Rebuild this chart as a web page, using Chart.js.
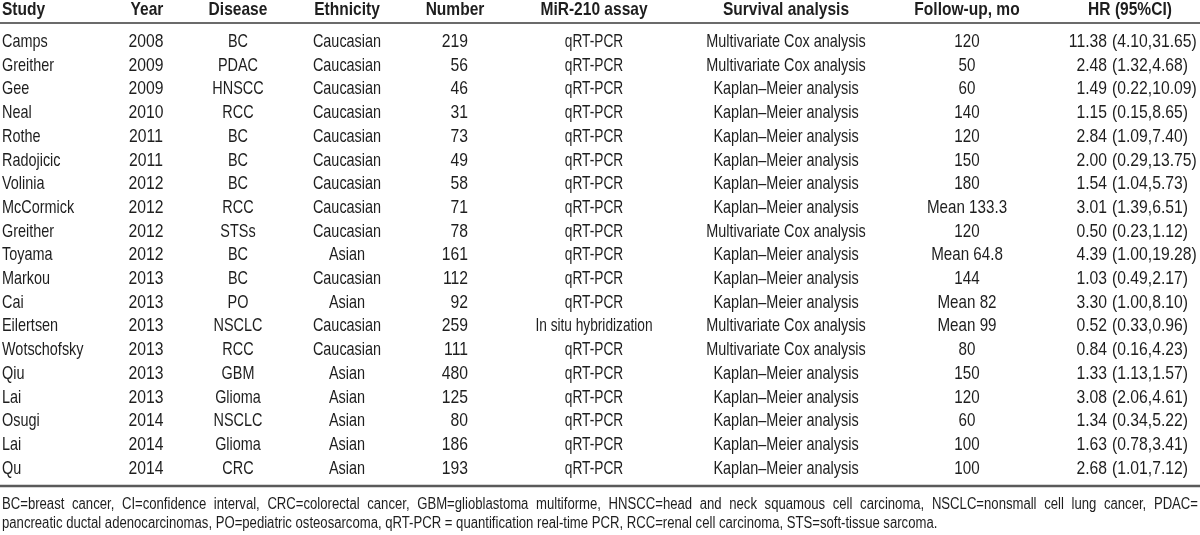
<!DOCTYPE html>
<html lang="en">

<head>
  <meta charset="UTF-8">
  <script src="https://cdn.jsdelivr.net/npm/chart.js@4"></script>
  <title>MiR-210 studies</title>
  <style>
    body { margin: 0; background: #fff; }
  </style>
</head>

<body>
  <canvas id="studyTable" width="1200" height="535"></canvas>

  <script>
    // table content, one array per column
    const studies = ['Camps', 'Greither', 'Gee', 'Neal', 'Rothe', 'Radojicic', 'Volinia', 'McCormick', 'Greither',
      'Toyama', 'Markou', 'Cai', 'Eilertsen', 'Wotschofsky', 'Qiu', 'Lai', 'Osugi', 'Lai', 'Qu']
    const years = [2008, 2009, 2009, 2010, 2011, 2011, 2012, 2012, 2012, 2012, 2013, 2013, 2013, 2013, 2013, 2013, 2014, 2014, 2014]
    const diseases = ['BC', 'PDAC', 'HNSCC', 'RCC', 'BC', 'BC', 'BC', 'RCC', 'STSs', 'BC', 'BC', 'PO', 'NSCLC', 'RCC',
      'GBM', 'Glioma', 'NSCLC', 'Glioma', 'CRC']
    const ethnicities = ['Caucasian', 'Caucasian', 'Caucasian', 'Caucasian', 'Caucasian', 'Caucasian', 'Caucasian',
      'Caucasian', 'Caucasian', 'Asian', 'Caucasian', 'Asian', 'Caucasian', 'Caucasian', 'Asian', 'Asian', 'Asian',
      'Asian', 'Asian']
    const numbers = [219, 56, 46, 31, 73, 49, 58, 71, 78, 161, 112, 92, 259, 111, 480, 125, 80, 186, 193]
    const assays = ['qRT-PCR', 'qRT-PCR', 'qRT-PCR', 'qRT-PCR', 'qRT-PCR', 'qRT-PCR', 'qRT-PCR', 'qRT-PCR', 'qRT-PCR',
      'qRT-PCR', 'qRT-PCR', 'qRT-PCR', 'In situ hybridization', 'qRT-PCR', 'qRT-PCR', 'qRT-PCR', 'qRT-PCR', 'qRT-PCR',
      'qRT-PCR']
    const MV = 'Multivariate Cox analysis', KM = 'Kaplan–Meier analysis'
    const survival = [MV, MV, KM, KM, KM, KM, KM, KM, MV, KM, KM, KM, MV, MV, KM, KM, KM, KM, KM]
    const followUp = ['120', '50', '60', '140', '120', '150', '180', 'Mean 133.3', '120', 'Mean 64.8', '144', 'Mean 82',
      'Mean 99', '80', '150', '120', '60', '100', '100']
    const hr = [11.38, 2.48, 1.49, 1.15, 2.84, 2.00, 1.54, 3.01, 0.50, 4.39, 1.03, 3.30, 0.52, 0.84, 1.33, 3.08, 1.34, 1.63, 2.68]
    const ciLow = [4.10, 1.32, 0.22, 0.15, 1.09, 0.29, 1.04, 1.39, 0.23, 1.00, 0.49, 1.00, 0.33, 0.16, 1.13, 2.06, 0.34, 0.78, 1.01]
    const ciHigh = [31.65, 4.68, 10.09, 8.65, 7.40, 13.75, 5.73, 6.51, 1.12, 19.28, 2.17, 8.10, 0.96, 4.23, 1.57, 4.61, 5.22, 3.41, 7.12]

    const headers = ['Study', 'Year', 'Disease', 'Ethnicity', 'Number', 'MiR-210 assay', 'Survival analysis',
      'Follow-up, mo', 'HR (95%CI)']
    const footnotes = [
      'BC=breast cancer, CI=confidence interval, CRC=colorectal cancer, GBM=glioblastoma multiforme, HNSCC=head and neck squamous cell carcinoma, NSCLC=nonsmall cell lung cancer, PDAC=',
      'pancreatic ductal adenocarcinomas, PO=pediatric osteosarcoma, qRT-PCR = quantification real-time PCR, RCC=renal cell carcinoma, STS=soft-tissue sarcoma.'
    ]

    // layout (x in px-like units of the x scale, y in row units of the y scale)
    // no condensed font installed, so Liberation Sans is squeezed horizontally;
    // digits in the original are wider than its letters, hence two squeezes
    const FONT = '"Liberation Sans", Arial, sans-serif'
    const TEXT_SX = 0.78, DIGIT_SX = 0.85
    const cellCss = '18.5px ' + FONT
    const headFont = { css: 'bold 18.5px ' + FONT, sx: 0.84 }
    const noteFont = { css: '16px ' + FONT, sx: 0.82 }
    const ROW_PX = 23.7
    const headerY = -1.35, headRuleY = -0.76, bottomRuleY = 18.78, noteY = [19.5, 20.3]

    const fmt = v => v.toFixed(2)
    const columns = [
      { x: 2, align: 'left', head: 'left', hx: 2, sx: TEXT_SX, texts: studies },
      { x: 146, align: 'center', hx: 147, sx: DIGIT_SX, texts: years.map(String) },
      { x: 238, align: 'center', hx: 238, sx: TEXT_SX, texts: diseases },
      { x: 347, align: 'center', hx: 347, sx: TEXT_SX, texts: ethnicities },
      { x: 468, align: 'right', hx: 455, sx: DIGIT_SX, texts: numbers.map(String) },
      { x: 594, align: 'center', hx: 594, sx: 0.74, texts: assays },
      { x: 786, align: 'center', hx: 786, sx: TEXT_SX, texts: survival },
      { x: 967, align: 'center', hx: 967, sx: 0.82, texts: followUp },
      { x: 1107, align: 'right', hx: 1130, sx: DIGIT_SX, texts: hr.map(fmt) },
      { x: 1112, align: 'left', sx: DIGIT_SX, texts: ciLow.map((lo, i) => '(' + fmt(lo) + ',' + fmt(ciHigh[i]) + ')') }
    ]

    const datasets = columns.map(c => ({
      type: 'scatter',
      data: c.texts.map((t, i) => ({ x: c.x, y: i })),
      texts: c.texts,
      align: c.align,
      font: { css: cellCss, sx: c.sx },
      pointRadius: 0
    }))
    datasets.push({
      type: 'scatter',
      data: columns.filter(c => c.hx !== undefined).map(c => ({ x: c.hx, y: headerY })),
      texts: headers,
      aligns: columns.filter(c => c.hx !== undefined).map(c => c.head || 'center'),
      font: headFont,
      pointRadius: 0
    })

    function narrowText(ctx, text, x, y, sx) {
      ctx.save()
      ctx.translate(x, y)
      ctx.scale(sx, 1)
      ctx.fillText(text, 0, 0)
      ctx.restore()
    }

    const tablePlugin = {
      id: 'tableText',
      afterDatasetsDraw(chart) {
        const ctx = chart.ctx
        const xs = chart.scales.x, ys = chart.scales.y
        ctx.save()
        ctx.fillStyle = '#1e1e1e'
        ctx.textBaseline = 'middle'
        chart.data.datasets.forEach((ds, di) => {
          const meta = chart.getDatasetMeta(di)
          ctx.font = ds.font.css
          meta.data.forEach((pt, i) => {
            ctx.textAlign = ds.aligns ? ds.aligns[i] : ds.align
            narrowText(ctx, ds.texts[i], pt.x, pt.y + 1, ds.font.sx)
          })
        })

        // rules
        const x0 = xs.getPixelForValue(0), x1 = xs.getPixelForValue(1200)
        ctx.strokeStyle = '#3a3a3a'
        ctx.lineWidth = 1.5
        ctx.beginPath()
        ctx.moveTo(x0, ys.getPixelForValue(headRuleY))
        ctx.lineTo(x1, ys.getPixelForValue(headRuleY))
        ctx.stroke()
        ctx.strokeStyle = '#5a5a5a'
        ctx.lineWidth = 2.5
        ctx.beginPath()
        ctx.moveTo(x0, ys.getPixelForValue(bottomRuleY))
        ctx.lineTo(x1, ys.getPixelForValue(bottomRuleY))
        ctx.stroke()

        // footnotes, first line justified
        ctx.font = noteFont.css
        ctx.textAlign = 'left'
        const left = xs.getPixelForValue(2), right = xs.getPixelForValue(1198)
        const wid = s => ctx.measureText(s).width * noteFont.sx
        footnotes.forEach((line, li) => {
          const y = ys.getPixelForValue(noteY[li]) + 1
          const words = line.split(' ')
          let gap = wid(' ')
          if (li < footnotes.length - 1) {
            const total = words.reduce((s, w) => s + wid(w), 0)
            gap = (right - left - total) / (words.length - 1)
          }
          let x = left
          words.forEach(w => {
            narrowText(ctx, w, x, y, noteFont.sx)
            x += wid(w) + gap
          })
        })
        ctx.restore()
      }
    }

    const yMin = -41 / ROW_PX
    const chart = new Chart(document.getElementById('studyTable'), {
      type: 'scatter',
      data: { datasets: datasets },
      options: {
        responsive: false,
        animation: false,
        layout: { padding: 0 },
        plugins: { legend: { display: false }, tooltip: { enabled: false } },
        scales: {
          x: { type: 'linear', min: 0, max: 1200, display: false },
          y: { type: 'linear', reverse: true, min: yMin, max: yMin + 535 / ROW_PX, display: false }
        }
      },
      plugins: [tablePlugin]
    })
  </script>
</body>

</html>
